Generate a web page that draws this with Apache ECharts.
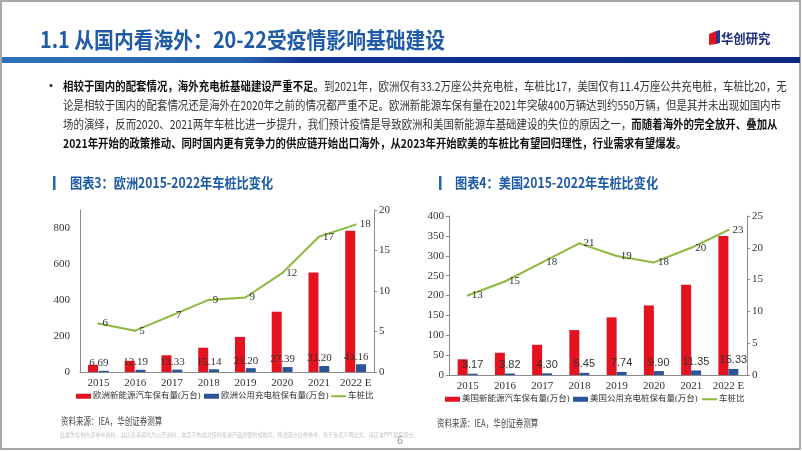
<!DOCTYPE html>
<html><head><meta charset="utf-8">
<script src="https://cdn.jsdelivr.net/npm/echarts@6/dist/echarts.min.js"></script>
<style>html,body{margin:0;padding:0;background:#fff}#c{width:802px;height:451px}</style>
</head><body><div id="c"></div>
<script>
// ---- data ----
const years = ['2015', '2016', '2017', '2018', '2019', '2020', '2021', '2022 E'];
const euEV = [40, 62, 93, 135, 195, 335, 553, 785];
const euPile = [6.69, 12.19, 13.33, 15.14, 21.20, 27.39, 33.20, 43.16];
const euRatio = [6.0, 5.1, 7.0, 8.9, 9.2, 12.2, 16.7, 18.2];
const usEV = [39.5, 56, 76, 113, 145, 175, 227, 350];
const usPile = [3.17, 3.82, 4.30, 5.45, 7.74, 9.90, 11.35, 15.33];
const usRatio = [12.5, 14.7, 17.7, 20.7, 18.7, 17.7, 20.0, 22.8];
const euLeftTicks = { min: 0, max: 900, interval: 200 };
const euRightTicks = { min: 0, max: 20, interval: 5 };
const usLeftTicks = { min: 0, max: 400, interval: 50 };
const usRightTicks = { min: 0, max: 25, interval: 5 };
const euNames = ['欧洲新能源汽车保有量(万台)', '欧洲公用充电桩保有量(万台)', '车桩比'];
const usNames = ['美国新能源汽车保有量(万台)', '美国公用充电桩保有量(万台)', '车桩比'];

const CJK = '"Noto Sans CJK SC", sans-serif';
const SERIF = '"Liberation Serif", "Noto Sans CJK SC", serif';
const RED = '#e3141f', BLUE = '#2a5597', GREEN = '#8db83f', AX = '#8a8a8a';

const chart = echarts.init(document.getElementById('c'));

function xAx(gi) {
  return { type: 'category', gridIndex: gi, data: years,
    axisLine: { lineStyle: { color: AX, width: 1 } }, axisTick: { show: false },
    axisLabel: { interval: 0, color: '#333', fontFamily: SERIF, fontSize: 11, margin: 6 } };
}
function yAx(gi, t, pos, ticks, margin) {
  return { type: 'value', gridIndex: gi, position: pos, min: t.min, max: t.max, interval: t.interval,
    splitLine: { show: false },
    axisLine: { show: true, lineStyle: { color: AX, width: 1 } },
    axisTick: { show: ticks, length: 3, lineStyle: { color: AX } },
    axisLabel: { showMaxLabel: t.max % t.interval === 0, color: '#333', fontFamily: SERIF, fontSize: 11, margin: margin } };
}
function lineLabel() {
  return { show: true, position: 'right', distance: 3, color: '#333', fontFamily: SERIF, fontSize: 11,
    formatter: p => String(Math.round(p.value)) };
}
function leg(name, left, top, isLine) {
  const l = { left: left, top: top, itemWidth: 15, itemHeight: 5, itemGap: 0, padding: 0,
    textStyle: { fontFamily: SERIF, fontSize: 8.5, color: '#333', padding: [0, 0, 0, -3] },
    data: [isLine ? { name: name, icon: 'path://M0,0H15V2H0Z' } : { name: name, icon: 'rect' }] };
  if (isLine) { l.itemHeight = 2; }
  return l;
}

const bodyN = { fontFamily: CJK, fontSize: 12, fill: '#333' };
const bodyB = { fontFamily: CJK, fontSize: 12, fill: '#111', fontWeight: 'bold' };
function bodyLine(y, text) {
  return { type: 'text', x: 63, y: y, scaleX: 0.87, z: 10,
    style: { text: text, rich: { n: bodyN, b: bodyB }, verticalAlign: 'middle', textVerticalAlign: 'middle' } };
}
function txt(x, y, text, font, fill, sx, align) {
  return { type: 'text', x: x, y: y, scaleX: sx || 1, z: 10,
    style: { text: text, font: font, fill: fill, align: align || 'left', textAlign: align || 'left',
      verticalAlign: 'middle', textVerticalAlign: 'middle' } };
}

const option = {
  animation: false,
  textStyle: { fontFamily: CJK },
  grid: [
    { left: 80, right: 802 - 374, top: 210, bottom: 451 - 372 },
    { left: 449, right: 802 - 747, top: 216, bottom: 451 - 375 }
  ],
  xAxis: [xAx(0), xAx(1)],
  yAxis: [
    yAx(0, euLeftTicks, 'left', false, 10),
    yAx(0, euRightTicks, 'right', true, 5),
    yAx(1, usLeftTicks, 'left', true, 5),
    yAx(1, usRightTicks, 'right', true, 5)
  ],
  legend: [
    leg(euNames[0], 76, 392, false), leg(euNames[1], 204, 392, false), leg(euNames[2], 331, 392, true),
    leg(usNames[0], 445, 395, false), leg(usNames[1], 573, 395, false), leg(usNames[2], 702, 395, true)
  ],
  series: [
    { name: euNames[0], type: 'bar', xAxisIndex: 0, yAxisIndex: 0, data: euEV, barWidth: 10, barGap: '8%',
      itemStyle: { color: RED } },
    { name: euNames[1], type: 'bar', xAxisIndex: 0, yAxisIndex: 0, data: euPile, barWidth: 10, barGap: '8%',
      itemStyle: { color: BLUE },
      label: { show: true, position: 'top', distance: 2, offset: [-5, 0], color: '#333', fontFamily: SERIF, fontSize: 11,
        formatter: p => p.value.toFixed(2) } },
    { name: euNames[2], type: 'line', xAxisIndex: 0, yAxisIndex: 1, data: euRatio,
      symbol: 'circle', symbolSize: 2, itemStyle: { color: GREEN }, lineStyle: { color: GREEN, width: 2 },
      label: lineLabel(), z: 5 },
    { name: usNames[0], type: 'bar', xAxisIndex: 1, yAxisIndex: 2, data: usEV, barWidth: 10, barGap: '0%',
      itemStyle: { color: RED } },
    { name: usNames[1], type: 'bar', xAxisIndex: 1, yAxisIndex: 2, data: usPile, barWidth: 10, barGap: '0%',
      itemStyle: { color: BLUE },
      label: { show: true, position: 'top', distance: 3, color: '#333', fontFamily: '"Liberation Sans", sans-serif', fontSize: 11,
        formatter: p => p.value.toFixed(2) } },
    { name: usNames[2], type: 'line', xAxisIndex: 1, yAxisIndex: 3, data: usRatio,
      symbol: 'circle', symbolSize: 2, itemStyle: { color: GREEN }, lineStyle: { color: GREEN, width: 2 },
      label: lineLabel(), z: 5 }
  ],
  graphic: [
    { type: 'rect', shape: { x: 1, y: 1, width: 799, height: 448 }, style: { fill: 'none', stroke: '#8c8c8c', lineWidth: 1.5 }, z: 1 },
    { type: 'rect', shape: { x: 2, y: 57, width: 798, height: 6 }, z: 2,
      style: { fill: new echarts.graphic.LinearGradient(0, 0, 1, 0, [
        { offset: 0, color: '#2f72b8' }, { offset: 0.3, color: '#2765ae' },
        { offset: 0.38, color: '#123391' }, { offset: 1, color: '#0c2a82' }]) } },
    txt(40, 40, '1.1 从国内看海外：20-22受疫情影响基础建设', 'bold 22px ' + CJK, '#1f5aa6', 0.9),
    { type: 'polygon', shape: { points: [[709, 34], [716, 31], [716, 44], [709, 45]] }, style: { fill: '#e3141f' }, z: 10 },
    { type: 'polygon', shape: { points: [[716, 31], [720, 30], [720, 43], [716, 44]] }, style: { fill: '#1f3d8c' }, z: 10 },
    txt(721, 38, '华创研究', 'bold 13px ' + CJK, '#1c2d7c', 0.95),
    txt(45, 86, '·', 'bold 12px ' + CJK, '#333'),
    bodyLine(86, '{b|相较于国内的配套情况，海外充电桩基础建设严重不足。}{n|到2021年，欧洲仅有33.2万座公共充电桩，车桩比17，美国仅有11.4万座公共充电桩，车桩比20，无}'),
    bodyLine(105, '{n|论是相较于国内的配套情况还是海外在2020年之前的情况都严重不足。欧洲新能源车保有量在2021年突破400万辆达到约550万辆，但是其并未出现如国内市}'),
    bodyLine(124, '{n|场的演绎，反而2020、2021两年车桩比进一步提升，我们预计疫情是导致欧洲和美国新能源车基础建设的失位的原因之一，}{b|而随着海外的完全放开、叠加从}'),
    bodyLine(143, '{b|2021年开始的政策推动、同时国内更有竞争力的供应链开始出口海外，从2023年开始欧美的车桩比有望回归理性，行业需求有望爆发。}'),
    { type: 'rect', shape: { x: 53, y: 176, width: 2.5, height: 14 }, style: { fill: '#2266b0' }, z: 10 },
    txt(70, 183, '图表3：欧洲2015-2022年车桩比变化', 'bold 14px ' + CJK, '#1f5aa6', 0.87),
    { type: 'rect', shape: { x: 439, y: 176, width: 2.5, height: 14 }, style: { fill: '#2266b0' }, z: 10 },
    txt(455, 183, '图表4：美国2015-2022年车桩比变化', 'bold 14px ' + CJK, '#1f5aa6', 0.87),
    txt(61, 421, '资料来源：IEA，华创证券测算', '10px ' + CJK, '#444', 0.75),
    txt(437, 423, '资料来源：IEA，华创证券测算', '10px ' + CJK, '#444', 0.75),
    txt(60, 435, '此报告仅供内部参考资料，其信息来源均为公开资料，本页不构成对任何投资产品的要约或推荐，所述观点仅供参考，关于免责声明全文，请见本PPT最后部分。', '5.5px ' + CJK, '#c4c4c4', 0.92),
    txt(400, 440, '6', '11px ' + CJK, '#999', 1, 'center')
  ]
};
chart.setOption(option);
</script>
</body></html>
